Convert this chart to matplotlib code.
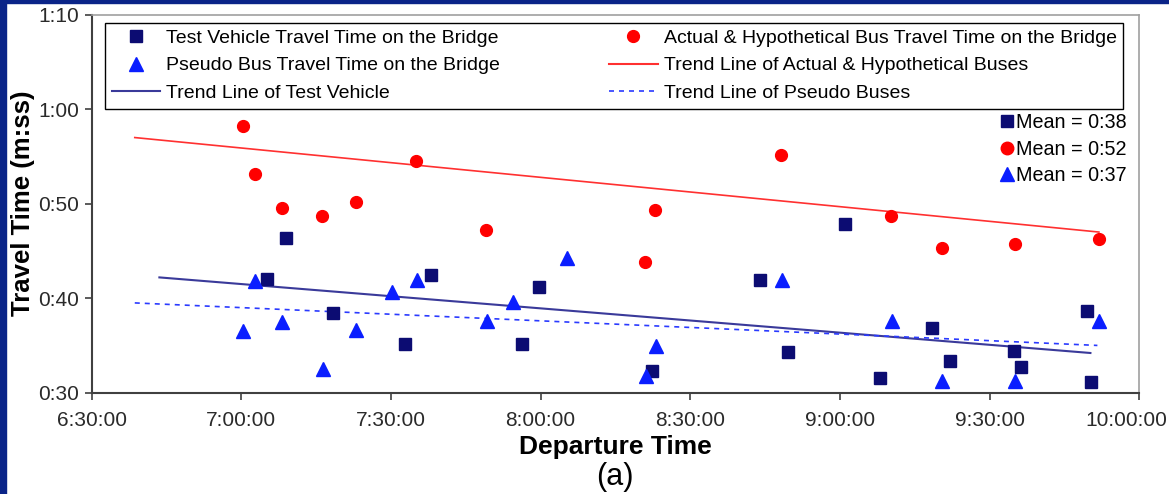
import pandas as pd
import matplotlib
matplotlib.use('Agg')
import matplotlib.pyplot as plt
from matplotlib.ticker import FuncFormatter, MultipleLocator
from matplotlib.lines import Line2D
from matplotlib.patches import Rectangle

plt.rcParams['font.family'] = ['Liberation Sans', 'DejaVu Sans']

# departure time (h:mm:ss) and travel time on the bridge (seconds)
bus_times = ['7:00:24', '7:02:42', '7:08:06', '7:16:12', '7:23:00', '7:35:00', '7:49:06',
             '8:20:54', '8:22:54', '8:48:06', '9:10:12', '9:20:24', '9:35:06', '9:51:54']
bus_travel = [58.2, 53.1, 49.5, 48.7, 50.2, 54.5, 47.2, 43.8, 49.3, 55.2, 48.7, 45.3, 45.7, 46.3]

test_times = ['7:05:12', '7:09:00', '7:18:18', '7:32:48', '7:38:00', '7:56:12', '7:59:36',
              '8:22:18', '8:44:00', '8:49:30', '9:01:06', '9:08:00', '9:18:24', '9:22:06',
              '9:34:54', '9:36:18', '9:49:36', '9:50:24']
test_travel = [42.0, 46.4, 38.4, 35.1, 42.5, 35.1, 41.2, 32.3, 41.9, 34.3, 47.9, 31.6,
               36.8, 33.4, 34.4, 32.7, 38.6, 31.1]

pseudo_times = ['7:00:24', '7:02:48', '7:08:06', '7:16:18', '7:23:06', '7:30:18', '7:35:12',
                '7:49:18', '7:54:24', '8:05:12', '8:21:06', '8:23:06', '8:48:18', '9:10:24',
                '9:20:24', '9:35:00', '9:51:54']
pseudo_travel = [36.5, 41.8, 37.5, 32.5, 36.6, 40.7, 41.9, 37.6, 39.6, 44.3, 31.8, 34.9,
                 41.9, 37.6, 31.2, 31.2, 37.6]

bus_trend_times = ['6:38:40', '9:51:54']
bus_trend_travel = [57.0, 47.0]
test_trend_times = ['6:43:36', '9:50:12']
test_trend_travel = [42.2, 34.2]
pseudo_trend_times = ['6:38:40', '9:51:36']
pseudo_trend_travel = [39.5, 35.0]

mean_labels = ['Mean = 0:38', 'Mean = 0:52', 'Mean = 0:37']


def to_min(ts):
    return pd.to_timedelta(ts).total_seconds() / 60


def hms(v):
    return f"{int(v // 60)}:{int(v % 60):02d}:00"


navy = '#0c0c72'
red = '#ff0000'
blue = '#0a1eff'
x_end = 600

fig = plt.figure(figsize=(11.69, 4.94), dpi=100)
fig.patches.append(Rectangle((0, 0), 6 / 1169, 1, transform=fig.transFigure, color='#0a2488', zorder=0))
fig.patches.append(Rectangle((0, 1 - 3 / 494), 1, 3 / 494, transform=fig.transFigure, color='#0a2488', zorder=0))

ax = fig.add_axes([0.0783, 0.2051, 0.8963, 0.7651])

ax.plot(to_min(bus_trend_times), bus_trend_travel, color='#ff3030', lw=1.2)
ax.plot(to_min(test_trend_times), test_trend_travel, color='#3a3a9a', lw=1.5)
ax.plot(to_min(pseudo_trend_times), pseudo_trend_travel, color='#2a3aff', lw=1.2, ls=(0, (3, 3)))

ax.plot(to_min(test_times), test_travel, 's', color=navy, ms=8, ls='none')
ax.plot(to_min(bus_times), bus_travel, 'o', color=red, ms=8.5, ls='none')
ax.plot(to_min(pseudo_times), pseudo_travel, '^', color=blue, ms=10, ls='none')

ax.set_xlim(390, x_end)
ax.set_ylim(30, 70)
ax.xaxis.set_major_locator(MultipleLocator(30))
ax.yaxis.set_major_locator(MultipleLocator(10))
# the last label is drawn by hand below, pulled in so it stays inside the picture
ax.xaxis.set_major_formatter(FuncFormatter(lambda v, p: '' if v >= x_end else hms(v)))
ax.yaxis.set_major_formatter(FuncFormatter(lambda v, p: f"{int(v // 60)}:{int(v % 60):02d}"))
ax.tick_params(direction='out', length=5, width=1.2, color='#404040',
               labelsize=15, labelcolor='#2a2a2a')
ax.tick_params(axis='x', pad=8)
ax.tick_params(axis='y', pad=4)
ax.annotate(hms(x_end), xy=(x_end, 0), xycoords=('data', 'axes fraction'),
            xytext=(-9, -13), textcoords='offset points', ha='center', va='top',
            fontsize=15, color='#2a2a2a', annotation_clip=False)
for s in ['left', 'bottom']:
    ax.spines[s].set_color('#404040')
    ax.spines[s].set_linewidth(1.5)
for s in ['top', 'right']:
    ax.spines[s].set_color('#a0a0a0')
    ax.spines[s].set_linewidth(1.2)

ax.set_xlabel('Departure Time', fontsize=19, fontweight='bold', labelpad=4)
ax.set_ylabel('Travel Time (m:ss)', fontsize=18.5, fontweight='bold', labelpad=2)
fig.text(0.526, 0.035, '(a)', fontsize=22, ha='center', va='center')

handles = [
    Line2D([], [], marker='s', color=navy, ms=8, ls='none'),
    Line2D([], [], marker='^', color=blue, ms=10, ls='none'),
    Line2D([], [], color='#3a3a9a', lw=1.5),
    Line2D([], [], marker='o', color=red, ms=8.5, ls='none'),
    Line2D([], [], color='#ff3030', lw=1.5),
    Line2D([], [], color='#2a3aff', lw=1.2, ls=(0, (3, 3))),
]
labels = ['Test Vehicle Travel Time on the Bridge',
          'Pseudo Bus Travel Time on the Bridge',
          'Trend Line of Test Vehicle',
          'Actual & Hypothetical Bus Travel Time on the Bridge',
          'Trend Line of Actual & Hypothetical Buses',
          'Trend Line of Pseudo Buses']
leg = ax.legend(handles, labels, ncol=2, loc='upper left', bbox_to_anchor=(0.0129, 0.9788),
                borderaxespad=0, fontsize=14, frameon=True, fancybox=False,
                edgecolor='black', framealpha=1, borderpad=0.35, labelspacing=0.5,
                handlelength=2.5, handletextpad=0.3, columnspacing=5.6)
leg.get_frame().set_linewidth(1.0)
ax.add_artist(leg)

mean_handles = [
    Line2D([], [], marker='s', color=navy, ms=9, ls='none'),
    Line2D([], [], marker='o', color=red, ms=9, ls='none'),
    Line2D([], [], marker='^', color=blue, ms=10, ls='none'),
]
ax.legend(mean_handles, mean_labels, loc='upper right', bbox_to_anchor=(0.9876, 0.7390),
          borderaxespad=0, frameon=False, fontsize=14.2, borderpad=0, labelspacing=0.38,
          handlelength=0.6, handletextpad=0.15)

fig.savefig('out.png', dpi=100)
